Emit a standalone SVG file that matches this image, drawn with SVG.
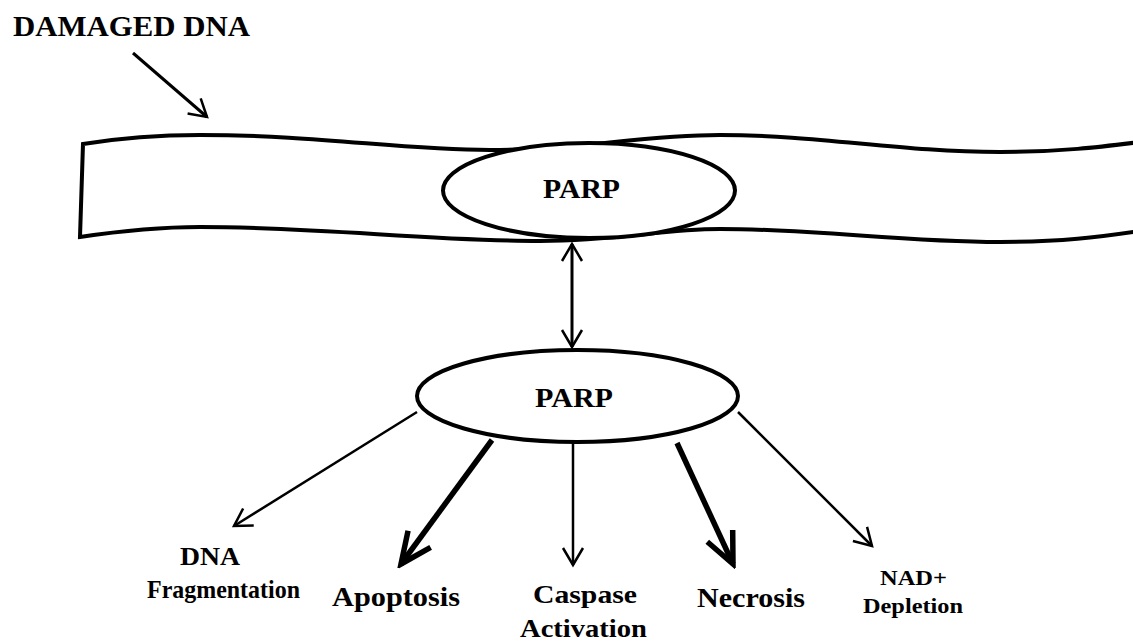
<svg xmlns="http://www.w3.org/2000/svg" width="1133" height="641" viewBox="0 0 1133 641">
<style>
.lbl{font-family:"Liberation Serif","Times New Roman",serif;font-weight:bold;fill:#000}
.shape{fill:#fff;stroke:#000;stroke-width:4}
.thin{stroke:#000;stroke-width:2.5;fill:none;marker-end:url(#openThin)}
.thick{stroke:#000;stroke-width:5.5;fill:none;marker-end:url(#openThick)}
</style>
<defs>
<marker id="openThin" markerUnits="userSpaceOnUse" viewBox="-3 -3 26 26" markerWidth="26" markerHeight="26" refX="17" refY="10" orient="auto-start-reverse">
<path d="M0,0 L17,10 L0,20" fill="none" stroke="#000" stroke-width="2.5" stroke-linejoin="miter"/>
</marker>
<marker id="openThick" markerUnits="userSpaceOnUse" viewBox="-4 -4 40 36" markerWidth="40" markerHeight="36" refX="31" refY="14" orient="auto">
<path d="M0,0 L31,14 L0,28" fill="none" stroke="#000" stroke-width="5.5" stroke-linejoin="miter"/>
</marker>
</defs>
<rect width="1133" height="641" fill="#fff"/>
<g id="damaged-dna-label">
<text class="lbl" x="13" y="36" font-size="30" textLength="237" lengthAdjust="spacingAndGlyphs">DAMAGED DNA</text>
</g>
<g id="dna-ribbon">
<path class="shape" d="M83,144 C120,138 160,135 200,135 C320,135 400,150 490,150 C580,150 640,135 720,135 C820,135 900,152 1000,152 C1060,152 1100,147 1140,142 L1140,231 C1100,237 1060,242 1000,242 C900,242 820,229 720,229 C660,229 620,241 540,241 C430,241 320,227 200,227 C160,227 120,231 80,237 Z"/>
</g>
<g id="parp-top">
<ellipse class="shape" cx="589" cy="190.5" rx="146" ry="47.5"/>
<text class="lbl" x="543" y="198" font-size="27" textLength="77" lengthAdjust="spacingAndGlyphs">PARP</text>
</g>
<g id="parp-bottom">
<ellipse class="shape" cx="577.5" cy="396" rx="160.5" ry="46"/>
<text class="lbl" x="535" y="407" font-size="28" textLength="78" lengthAdjust="spacingAndGlyphs">PARP</text>
</g>
<g id="dna-fragmentation">
<text class="lbl" x="180" y="565" font-size="25" textLength="60" lengthAdjust="spacingAndGlyphs">DNA</text>
<text class="lbl" x="147" y="598" font-size="25" textLength="153" lengthAdjust="spacingAndGlyphs">Fragmentation</text>
</g>
<g id="apoptosis">
<text class="lbl" x="332" y="606" font-size="28" textLength="128" lengthAdjust="spacingAndGlyphs">Apoptosis</text>
</g>
<g id="caspase-activation">
<text class="lbl" x="533" y="603" font-size="26" textLength="104" lengthAdjust="spacingAndGlyphs">Caspase</text>
<text class="lbl" x="520" y="637" font-size="26" textLength="127" lengthAdjust="spacingAndGlyphs">Activation</text>
</g>
<g id="necrosis">
<text class="lbl" x="697" y="607" font-size="27" textLength="108" lengthAdjust="spacingAndGlyphs">Necrosis</text>
</g>
<g id="nad-depletion">
<text class="lbl" x="880" y="585" font-size="22" textLength="67" lengthAdjust="spacingAndGlyphs">NAD+</text>
<text class="lbl" x="863" y="613" font-size="22" textLength="100" lengthAdjust="spacingAndGlyphs">Depletion</text>
</g>
<g id="connectors">
<line class="thin" x1="133" y1="53" x2="207" y2="117" style="stroke-width:3"/>
<line class="thin" x1="572" y1="244" x2="572" y2="347" style="stroke-width:3;marker-start:url(#openThin)"/>
<line class="thin" x1="417" y1="412" x2="234" y2="526"/>
<line class="thick" x1="492" y1="440" x2="401" y2="564"/>
<line class="thin" x1="573" y1="442" x2="573" y2="565"/>
<line class="thick" x1="677" y1="443" x2="733" y2="564"/>
<line class="thin" x1="738" y1="412" x2="872" y2="546"/>
</g>
</svg>
